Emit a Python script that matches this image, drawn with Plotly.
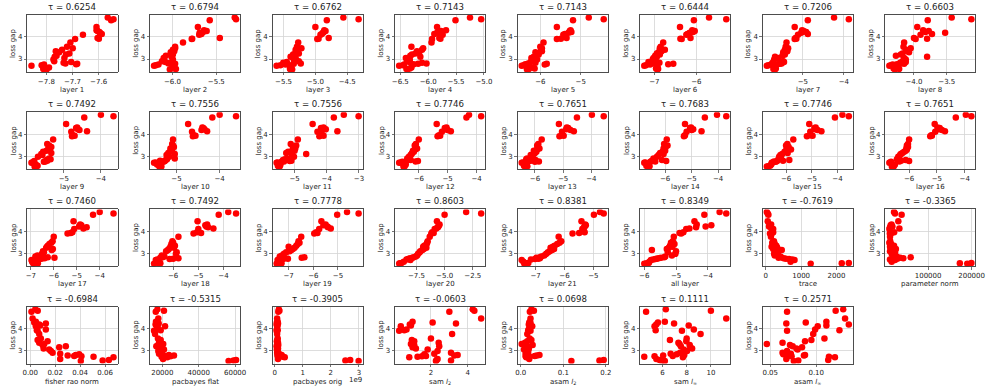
import plotly.graph_objects as go

# ---------------- data ----------------
loss_gap = [2.53, 2.55, 2.57, 2.62,
            2.70, 2.72, 2.75, 2.76, 2.78, 2.80, 2.83, 2.86, 2.90,
            2.98, 3.05, 3.10, 3.15, 3.20, 3.25, 3.30, 3.35, 3.42, 3.48, 3.55,
            3.75, 3.90, 3.92, 3.95,
            4.10, 4.13, 4.18, 4.22, 4.27, 4.30,
            4.45,
            4.75, 4.80, 4.87]

layer_1 = [-7.799, -7.812, -7.809, -7.790,
           -7.857, -7.818, -7.809, -7.686, -7.682, -7.727, -7.734, -7.705, -7.770,
           -7.773, -7.731, -7.768, -7.761, -7.725, -7.712, -7.751, -7.764, -7.740, -7.699, -7.721,
           -7.708, -7.690, -7.599, -7.604,
           -7.660, -7.588, -7.595, -7.597, -7.604, -7.608,
           -7.608,
           -7.552, -7.543, -7.565]
layer_2 = [-6.03, -5.96, -5.98, -5.99,
           -6.21, -6.19, -6.16, -6.01, -5.97, -6.045, -6.025, -6.08, -6.12,
           -5.995, -6.10, -6.01, -6.075, -5.995, -6.01, -6.02, -5.98, -5.995, -5.97, -5.97,
           -5.88, -5.78, -5.775, -5.46,
           -5.695, -5.67, -5.69, -5.65, -5.61, -5.64,
           -5.71,
           -5.575, -5.275, -5.29]
layer_3 = [-5.365, -5.40, -5.39, -5.38,
           -5.61, -5.55, -5.47, -5.43, -5.34, -5.23, -5.505, -5.45, -5.26,
           -5.34, -5.31, -5.39, -5.33, -5.35, -5.26, -5.31, -5.30, -5.31, -5.22, -5.29,
           -5.27, -4.97, -4.95, -4.79,
           -4.92, -4.90, -4.88, -4.87, -4.84, -4.86,
           -5.00,
           -4.82, -4.32, -4.56]
layer_4 = [-6.37, -6.39, -6.33, -6.30,
           -6.52, -6.45, -6.43, -6.26, -6.18, -6.03, -6.11, -6.33, -6.38,
           -6.33, -6.40, -6.14, -6.32, -6.29, -6.23, -6.16, -6.20, -6.11, -6.09, -6.30,
           -5.94, -5.93, -5.78, -5.80,
           -5.74, -5.89, -5.84, -5.82, -5.77, -5.68,
           -5.84,
           -5.51, -5.05, -5.25]
layer_5 = [-6.33, -6.28, -6.14, -6.20,
           -6.46, -6.41, -5.89, -6.37, -5.84, -6.30, -6.12, -6.24, -6.14,
           -6.08, -6.22, -6.16, -6.10, -6.04, -6.08, -6.12, -5.96, -5.98, -5.96, -6.00,
           -5.92, -5.59, -5.49, -5.35,
           -5.43, -5.39, -5.30, -5.23, -5.27, -5.25,
           -5.59,
           -5.19, -4.43, -4.80]
layer_6 = [-6.93, -6.91, -6.96, -6.92,
           -7.24, -7.20, -7.10, -6.67, -6.55, -7.01, -6.88, -7.14, -6.96,
           -7.04, -7.02, -6.94, -6.98, -6.87, -6.94, -6.90, -6.83, -6.75, -6.87, -6.85,
           -6.79, -6.35, -6.38, -6.14,
           -6.24, -6.21, -6.16, -6.08, -6.04, -6.10,
           -6.39,
           -6.06, -5.29, -5.70]
layer_7 = [-5.68, -5.72, -5.66, -5.70,
           -5.88, -5.84, -5.78, -5.62, -5.56, -5.52, -5.74, -5.46, -5.48,
           -5.70, -5.60, -5.68, -5.50, -5.44, -5.46, -5.48, -5.38, -5.44, -5.36, -5.42,
           -5.40, -5.20, -5.16, -5.18,
           -5.12, -4.88, -5.04, -4.92, -4.98, -5.02,
           -5.20,
           -4.88, -3.88, -4.24]
layer_8 = [-4.29, -4.225, -4.31, -4.24,
           -4.375, -4.35, -4.325, -4.26, -4.15, -4.20, -4.21, -4.125, -4.175,
           -4.125, -4.15, -3.80, -4.275, -4.20, -4.175, -4.075, -4.10, -4.125, -4.05, -4.16,
           -4.15, -3.975, -3.80, -4.00,
           -3.90, -3.725, -3.525, -3.825, -3.775, -3.86,
           -3.95,
           -3.79, -3.125, -3.425]
layer_9 = [-5.79, -5.74, -5.71, -5.76,
           -5.875, -5.85, -5.54, -5.50, -5.80, -5.45, -5.47, -5.36, -5.40,
           -5.70, -5.58, -5.61, -5.34, -5.56, -5.47, -5.43, -5.38, -5.34, -5.40, -5.45,
           -5.29, -4.78, -4.71, -4.76,
           -4.80, -4.375, -4.58, -4.62, -4.67, -4.64,
           -4.94,
           -4.45, -3.66, -4.00]
layer_10 = [-5.35, -5.40, -5.38, -5.45,
            -5.52, -5.48, -5.32, -5.29, -5.27, -5.38, -5.25, -5.22, -5.04,
            -5.17, -5.23, -5.04, -5.19, -5.15, -5.10, -5.12, -5.14, -5.06, -5.08, -5.10,
            -5.08, -4.62, -4.56, -4.60,
            -4.64, -4.29, -4.42, -4.35, -4.38, -4.40,
            -4.73,
            -4.17, -3.62, -4.00]
layer_11 = [-5.49, -5.46, -5.52, -5.44,
            -5.56, -5.53, -5.41, -5.33, -5.15, -5.10, -5.36, -5.30, -5.22,
            -5.02, -5.08, -4.64, -5.26, -5.20, -5.00, -5.06, -4.98, -5.05, -4.95, -5.12,
            -4.90, -4.23, -4.10, -4.18,
            -4.29, -3.67, -4.13, -4.03, -4.18, -4.10,
            -4.44,
            -3.78, -3.01, -3.47]
layer_12 = [-6.53, -6.49, -6.51, -6.45,
            -6.68, -6.63, -6.57, -6.11, -6.03, -6.42, -6.28, -6.34, -6.40,
            -6.34, -6.28, -6.25, -6.23, -6.17, -6.20, -6.12, -6.06, -6.11, -6.14, -6.10,
            -6.00, -5.35, -5.26, -5.30,
            -5.20, -4.89, -5.00, -5.06, -5.10, -5.04,
            -5.38,
            -4.35, -3.84, -4.26]
layer_13 = [-6.35, -6.27, -6.39, -6.31,
            -6.47, -6.42, -6.00, -5.86, -6.21, -6.15, -5.98, -6.31, -6.28,
            -6.09, -6.15, -6.04, -6.00, -5.95, -6.04, -5.92, -5.84, -5.90, -5.92, -5.88,
            -5.76, -5.13, -4.98, -5.05,
            -5.04, -4.62, -4.74, -4.89, -4.82, -4.87,
            -5.15,
            -4.51, -3.56, -3.98]
layer_14 = [-6.66, -6.59, -6.71, -6.62,
            -6.79, -6.75, -6.56, -6.375, -5.96, -6.50, -6.12, -6.40, -6.44,
            -6.31, -6.25, -6.06, -6.19, -6.10, -6.00, -6.04, -6.06, -5.98, -5.91, -6.04,
            -5.94, -5.29, -5.27, -5.25,
            -5.19, -4.625, -5.00, -4.94, -5.06, -5.02,
            -5.25,
            -4.50, -3.69, -4.04]
layer_15 = [-6.75, -6.69, -6.62, -6.58,
            -6.56, -6.52, -6.40, -6.47, -6.35, -6.12, -5.875, -6.30, -6.20,
            -6.27, -6.22, -6.15, -5.94, -6.06, -6.00, -5.81, -5.975, -5.90, -6.00, -5.95,
            -5.72, -5.19, -4.97, -5.05,
            -5.06, -4.625, -4.775, -4.875, -4.90, -4.85,
            -5.10,
            -4.10, -3.56, -3.81]
layer_16 = [-6.62, -6.55, -6.58, -6.51,
            -6.71, -6.67, -6.65, -6.35, -6.00, -6.29, -6.12, -6.44, -6.39,
            -6.39, -6.32, -6.30, -6.24, -6.18, -6.12, -6.08, -6.10, -6.04, -6.08, -6.04,
            -6.00, -5.24, -5.18, -5.20,
            -5.06, -4.71, -4.82, -4.94, -4.90, -4.98,
            -5.08,
            -4.32, -3.76, -3.96]
layer_17 = [-6.86, -6.69, -6.90, -6.94,
            -6.97, -6.76, -6.61, -6.54, -6.40, -5.97, -6.26, -6.80, -6.71,
            -6.51, -6.43, -6.47, -6.09, -6.04, -6.33, -6.29, -6.26, -6.19, -6.11, -6.05,
            -6.00, -5.40, -5.26, -5.19,
            -5.11, -4.71, -4.57, -4.90, -4.80, -4.85,
            -5.14,
            -4.29, -3.40, -4.00]
layer_18 = [-6.76, -6.51, -6.60, -6.56,
            -6.69, -6.625, -6.14, -6.00, -5.79, -6.51, -6.42, -6.35, -6.45,
            -5.89, -5.86, -6.28, -6.21, -6.17, -5.97, -6.11, -5.93, -6.07, -6.00, -6.03,
            -5.79, -5.19, -4.89, -5.05,
            -5.00, -4.40, -4.61, -4.68, -4.72, -4.65,
            -5.03,
            -4.19, -3.50, -3.81]
layer_19 = [-7.49, -7.29, -7.32, -7.35,
            -7.45, -7.40, -7.23, -7.03, -7.16, -6.47, -6.36, -7.36, -7.27,
            -7.19, -7.10, -6.96, -6.89, -6.83, -6.76, -7.00, -6.69, -6.63, -6.56, -6.60,
            -6.49, -5.96, -5.83, -5.88,
            -5.76, -5.29, -5.40, -5.43, -5.59, -5.50,
            -5.67,
            -5.03, -4.16, -4.63]
layer_20 = [-9.03, -8.97, -8.82, -8.62,
            -8.03, -8.38, -8.24, -8.15, -8.03, -7.85, -7.74, -7.56, -7.44,
            -7.35, -7.21, -7.15, -6.97, -6.85, -6.62, -6.90, -6.80, -6.60, -6.55, -6.50,
            -6.32, -6.18, -5.97, -6.10,
            -5.88, -5.74, -5.60, -5.55, -5.50, -5.45,
            -5.68,
            -5.00, -1.76, -3.09]
layer_21 = [-7.39, -7.31, -7.25, -7.42,
            -7.48, -7.16, -7.02, -6.91, -6.85, -6.97, -6.85, -6.80, -6.70,
            -6.63, -6.57, -6.51, -6.43, -6.36, -6.48, -6.40, -6.34, -6.25, -6.17, -6.11,
            -6.20, -5.72, -5.49, -5.30,
            -5.38, -5.34, -5.32, -5.30, -5.26, -5.28,
            -5.41,
            -4.98, -4.64, -4.77]
all_layer = [-6.00, -5.93, -5.86, -5.84,
             -5.79, -5.72, -5.65, -5.61, -5.55, -5.47, -5.37, -5.34, -5.13,
             -5.02, -5.26, -5.00, -5.76, -5.29, -5.23, -5.11, -5.19, -5.05, -5.16, -5.10,
             -5.07, -4.84, -4.89, -4.77,
             -4.68, -4.58, -4.37, -4.07, -3.89, -4.35,
             -4.42,
             -4.11, -3.42, -3.63]
trace = [1270, 2150, 2350, 700,
         811, 748, 658, 568, 504, 360, 432, 414, 252,
         234, 342, 270, 450, 207, 324, 162, 297, 252, 180, 230,
         144, 117, 180, 207,
         207, 162, 144, 90, 100, 150,
         54,
         72, 54, 27]
parameter_norm = [190000, 173000, 199500, 16300,
                  24000, 12500, 20000, 29300, 43000, 35400, 60000, 27800, 18600,
                  16300, 24000, 12500, 20000, 26000, 14000, 12500, 21700, 15000, 11000, 13000,
                  12500, 12000, 16000, 22000,
                  11000, 34000, 12500, 18000, 14000, 16000,
                  31600,
                  39200, 24000, 21700]
fisher_rao_norm = [0.0405, 0.058, 0.063, 0.024,
                   0.0667, 0.0507, 0.041, 0.0352, 0.030, 0.0365, 0.0392, 0.024, 0.0179,
                   0.0165, 0.0152, 0.0107, 0.0232, 0.0285, 0.0099, 0.0112, 0.0072, 0.0139, 0.0059, 0.0085,
                   0.0072, 0.0059, 0.0053, 0.0125,
                   0.0045, 0.0080, 0.0072, 0.0125, 0.0032, 0.0045,
                   0.0019,
                   0.0010, 0.0060, 0.0040]
pacbayes_flat = [56400, 59100, 60500, 20400,
                 22700, 19600, 24500, 21800, 26400, 23600, 20000, 18200, 19100,
                 17800, 20900, 18200, 19100, 16700, 17800, 20500, 18200, 18500, 19100, 17600,
                 16000, 15450, 19100, 16800,
                 21500, 17500, 16300, 18000, 17000, 16500,
                 17800,
                 16400, 20900, 17300]
pacbayes_orig = [2.99e9, 2.52e9, 2.69e9, 0.12e9,
                 0.36e9, 0.30e9, 0.22e9, 0.15e9, 0.10e9, 0.25e9, 0.18e9, 0.12e9, 0.09e9,
                 0.11e9, 0.08e9, 0.12e9, 0.10e9, 0.07e9, 0.13e9, 0.09e9, 0.12e9, 0.08e9, 0.10e9, 0.11e9,
                 0.09e9, 0.07e9, 0.11e9, 0.08e9,
                 0.10e9, 0.09e9, 0.07e9, 0.12e9, 0.08e9, 0.11e9,
                 0.09e9,
                 0.13e9, 0.17e9, 0.15e9]
sam_l2 = [2.27, 3.09, 2.31, 2.36,
          0.82, 1.27, 1.51, 1.73, 3.27, 3.45, 1.64, 2.18, 3.09,
          2.36, 1.82, 1.18, 1.00, 2.45, 1.09, 0.91, 2.42, 1.09, 0.96, 2.00,
          3.15, 0.27, 0.55, 0.67,
          0.36, 0.91, 0.85, 3.36, 2.09, 1.00,
          4.73,
          3.00, 4.36, 4.27]
asam_l2 = [0.119, 0.185, 0.195, 0.020,
           0.013, 0.021, 0.0115, 0.033, 0.038, 0.044, 0.0177, 0.0115, 0.015,
           0.0177, 0.0077, 0.019, 0.013, 0.0154, 0.028, 0.0023, 0.010, 0.0154, 0.025, 0.021,
           0.0154, 0.023, 0.0177, 0.019,
           0.027, 0.021, 0.019, 0.023, 0.020, 0.022,
           0.023,
           0.0215, 0.031, 0.025]
sam_linf = [6.20, 5.92, 5.77, 5.50,
            7.69, 4.50, 5.35, 6.85, 6.06, 7.80, 7.18, 6.68, 7.46,
            8.03, 7.75, 8.45, 8.31, 7.52, 8.25, 7.41, 7.32, 7.97, 6.62, 8.00,
            9.15, 7.61, 5.44, 8.59,
            5.35, 8.17, 5.49, 6.96, 5.63, 6.20,
            11.27,
            4.65, 10.00, 6.28]
asam_linf = [0.0756, 0.0805, 0.1130, 0.0675,
             0.1203, 0.1138, 0.0732, 0.0703, 0.0866, 0.0878, 0.0642, 0.0724, 0.0634,
             0.0683, 0.0797, 0.0785, 0.0846, 0.0744, 0.0715, 0.0463, 0.0634, 0.0878, 0.0947, 0.1089,
             0.0967, 0.0683, 0.1252, 0.0988,
             0.1016, 0.1110, 0.1354, 0.0675, 0.0886, 0.1110,
             0.1313,
             0.0683, 0.1211, 0.1293]

panel_x = [layer_1, layer_2, layer_3, layer_4, layer_5, layer_6, layer_7, layer_8,
           layer_9, layer_10, layer_11, layer_12, layer_13, layer_14, layer_15, layer_16,
           layer_17, layer_18, layer_19, layer_20, layer_21, all_layer, trace, parameter_norm,
           fisher_rao_norm, pacbayes_flat, pacbayes_orig, sam_l2, asam_l2, sam_linf, asam_linf]

x_labels = ["layer %d" % k for k in range(1, 22)] + [
    "all layer", "trace", "parameter norm", "fisher rao norm", "pacbayes flat",
    "pacbayes orig", "sam <i>l</i><sub>2</sub>", "asam <i>l</i><sub>2</sub>",
    "sam <i>l</i><sub>∞</sub>", "asam <i>l</i><sub>∞</sub>"]

tau_values = ["0.6254", "0.6794", "0.6762", "0.7143", "0.7143", "0.6444", "0.7206", "0.6603",
              "0.7492", "0.7556", "0.7556", "0.7746", "0.7651", "0.7683", "0.7746", "0.7651",
              "0.7460", "0.7492", "0.7778", "0.8603", "0.8381", "0.8349", "-0.7619", "-0.3365",
              "-0.6984", "-0.5315", "-0.3905", "-0.0603", "0.0698", "0.1111", "0.2571"]

x_tick_values = [
    [-7.8, -7.7, -7.6], [-6.0, -5.5], [-5.5, -5.0, -4.5], [-6.5, -6.0, -5.5, -5.0],
    [-6, -5], [-7, -6], [-5, -4], [-4.0, -3.5],
    [-5, -4], [-5, -4], [-5, -4, -3], [-6, -5, -4],
    [-6, -5, -4], [-6, -5, -4], [-6, -5, -4], [-6, -5, -4],
    [-7, -6, -5, -4], [-6, -5, -4], [-7, -6, -5], [-7.5, -5.0, -2.5],
    [-7, -6, -5], [-6, -5, -4], [0, 1000, 2000], [100000, 200000],
    [0.00, 0.02, 0.04, 0.06], [20000, 40000, 60000], [0, 1e9, 2e9, 3e9], [2, 4],
    [0.0, 0.1, 0.2], [6, 8, 10], [0.05, 0.10]]
x_tick_labels = [
    ["−7.8", "−7.7", "−7.6"], ["−6.0", "−5.5"], ["−5.5", "−5.0", "−4.5"], ["−6.5", "−6.0", "−5.5", "−5.0"],
    ["−6", "−5"], ["−7", "−6"], ["−5", "−4"], ["−4.0", "−3.5"],
    ["−5", "−4"], ["−5", "−4"], ["−5", "−4", "−3"], ["−6", "−5", "−4"],
    ["−6", "−5", "−4"], ["−6", "−5", "−4"], ["−6", "−5", "−4"], ["−6", "−5", "−4"],
    ["−7", "−6", "−5", "−4"], ["−6", "−5", "−4"], ["−7", "−6", "−5"], ["−7.5", "−5.0", "−2.5"],
    ["−7", "−6", "−5"], ["−6", "−5", "−4"], ["0", "1000", "2000"], ["100000", "200000"],
    ["0.00", "0.02", "0.04", "0.06"], ["20000", "40000", "60000"], ["0", "1", "2", "3"], ["2", "4"],
    ["0.0", "0.1", "0.2"], ["6", "8", "10"], ["0.05", "0.10"]]
y_tick_values = [3, 4]
y_tick_labels = ["3", "4"]

# ---------------- layout ----------------
W, H = 997, 391
AX_W, AX_H = 91.5, 57.0
COL0, COL_STEP = 22.7, 124.3
ROW0, ROW_STEP = 15.0, 97.2
FONT = "DejaVu Sans"
TXT = "#222222"


def padded(vals):
    lo, hi = min(vals), max(vals)
    p = 0.05 * (hi - lo)
    return [lo - p, hi + p]


y_range = padded(loss_gap)

fig = go.Figure()
layout = dict(width=W, height=H, margin=dict(l=0, r=0, t=0, b=0),
              paper_bgcolor="white", plot_bgcolor="white", showlegend=False,
              font=dict(family=FONT, color=TXT, size=7))
annotations = []

for i, xs in enumerate(panel_x):
    n = i + 1
    r, c = divmod(i, 8)
    left = COL0 + c * COL_STEP
    top = ROW0 + r * ROW_STEP
    xname = "xaxis" if n == 1 else "xaxis%d" % n
    yname = "yaxis" if n == 1 else "yaxis%d" % n
    xref = "x" if n == 1 else "x%d" % n
    yref = "y" if n == 1 else "y%d" % n
    common = dict(showgrid=True, gridcolor="#d4d4d4", gridwidth=0.8,
                  showline=True, mirror=True, linecolor="#3a3a3a", linewidth=0.9,
                  ticks="outside", ticklen=2.5, tickwidth=0.7, tickcolor="#3a3a3a",
                  tickfont=dict(size=7, family=FONT, color=TXT),
                  zeroline=False, fixedrange=True)
    layout[xname] = dict(domain=[left / W, (left + AX_W) / W], anchor=yref,
                         range=padded(xs), tickmode="array",
                         tickvals=x_tick_values[i], ticktext=x_tick_labels[i], **common)
    layout[yname] = dict(domain=[1 - (top + AX_H) / H, 1 - top / H], anchor=xref,
                         range=y_range, tickmode="array",
                         tickvals=y_tick_values, ticktext=y_tick_labels, **common)
    fig.add_trace(go.Scatter(x=xs, y=loss_gap, mode="markers", xaxis=xref, yaxis=yref,
                             marker=dict(color="#ff0000", size=6.5, line=dict(width=0)),
                             hoverinfo="skip", cliponaxis=True))
    cx = (left + AX_W / 2) / W
    annotations.append(dict(text="τ = " + tau_values[i], x=cx, y=1 - (top - 8.0) / H,
                            xref="paper", yref="paper", showarrow=False,
                            xanchor="center", yanchor="middle",
                            font=dict(size=8.6, family=FONT, color=TXT)))
    annotations.append(dict(text=x_labels[i], x=cx, y=1 - (top + AX_H + 18.0) / H,
                            xref="paper", yref="paper", showarrow=False,
                            xanchor="center", yanchor="middle",
                            font=dict(size=7, family=FONT, color=TXT)))
    annotations.append(dict(text="loss gap", x=(left - 14.0) / W, y=1 - (top + AX_H / 2) / H,
                            xref="paper", yref="paper", showarrow=False, textangle=-90,
                            xanchor="center", yanchor="middle",
                            font=dict(size=7, family=FONT, color=TXT)))

# offset text of the pacbayes orig axis
po_left = COL0 + 2 * COL_STEP
annotations.append(dict(text="1e9", x=(po_left + AX_W + 1) / W, y=1 - (3 * ROW_STEP + ROW0 + AX_H + 16.5) / H,
                        xref="paper", yref="paper", showarrow=False,
                        xanchor="right", yanchor="middle",
                        font=dict(size=7, family=FONT, color=TXT)))

layout["annotations"] = annotations
fig.update_layout(**layout)
fig.write_html("out.html",
               config={"displayModeBar": False, "staticPlot": True},
               post_script="document.body.style.margin='0';document.body.style.padding='0';"
                           "document.body.style.overflow='hidden';")
